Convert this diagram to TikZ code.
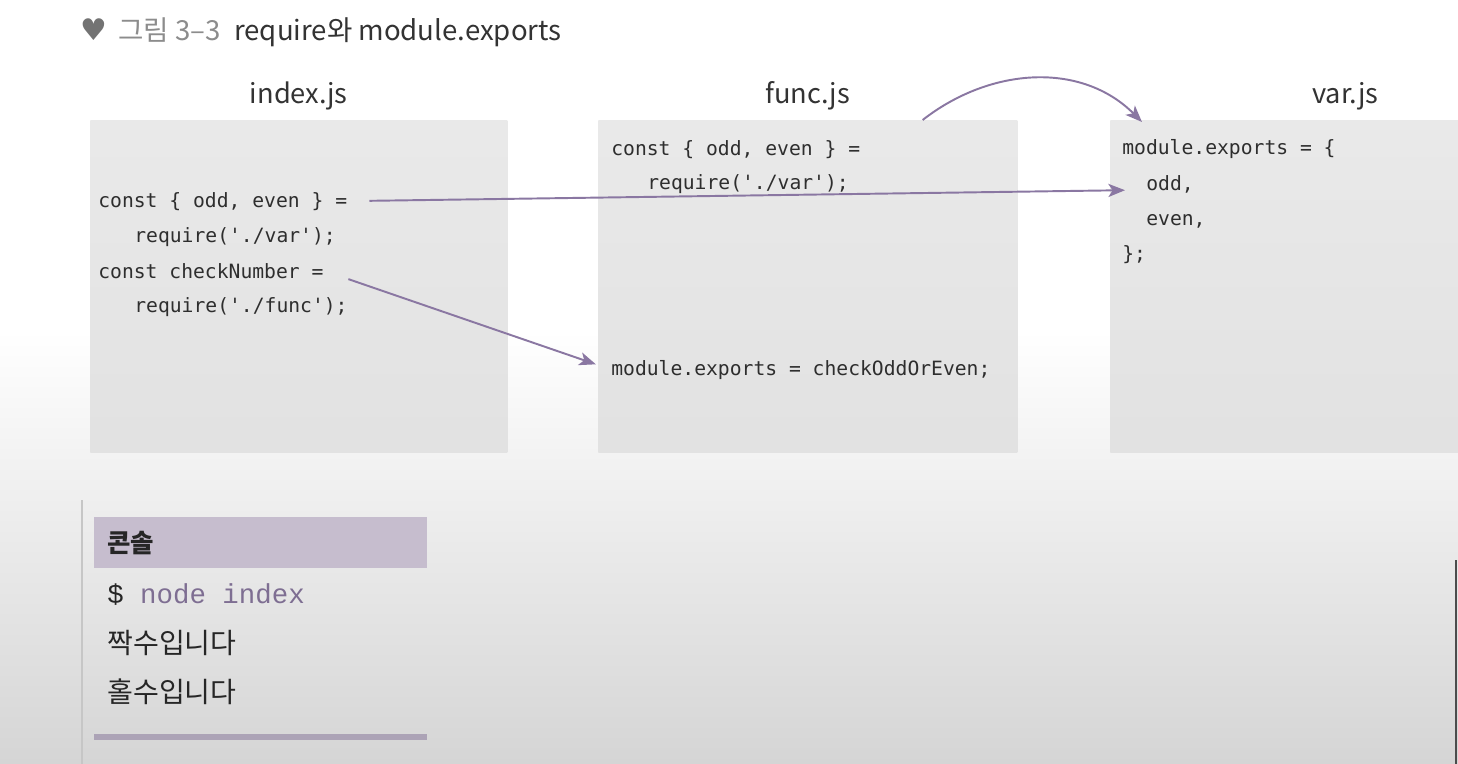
\documentclass[tikz,border=0pt]{standalone}
\usepackage{fontspec}
\setmonofont{DejaVu Sans Mono}
\newfontfamily\krfont{Noto Sans CJK KR}
\newfontfamily\consfont{Liberation Mono}
\newfontfamily\symfont{DejaVu Sans}
\usetikzlibrary{arrows.meta}
\usetikzlibrary{positioning}

\definecolor{arrowc}{HTML}{8A77A2}
\definecolor{lilac}{HTML}{C6BDCE}
\definecolor{barc}{HTML}{ACA3B6}
\definecolor{cmdc}{HTML}{7E6E92}
\definecolor{codec}{HTML}{2E2E2E}

\begin{document}
\begin{tikzpicture}[x=0.02cm,y=-0.02cm,
    filebox/.style={anchor=north west,minimum height=6.64cm,inner sep=0,draw=none,top color=gray!17,bottom color=gray!23},
    fname/.style={inner sep=0,font=\krfont\fontsize{15.5}{18}\selectfont,text=black!80},
    code/.style={anchor=base west,inner sep=0,font=\ttfamily\fontsize{11.2}{13}\selectfont,text=codec},
    link/.style={draw=arrowc,line width=1.1pt,-{Stealth[length=9.5pt,width=7.5pt,inset=2.5pt]}},
    cons/.style={anchor=west,inner sep=0,font=\krfont\fontsize{16}{19}\selectfont,text=black!85}]
    \useasboundingbox (0,0) rectangle (1458,764);
    \clip (0,0) rectangle (1458,764);
    \fill[white] (0,0) rectangle (1458,330);
    \shade[top color=white,bottom color=gray!33] (0,330) rectangle (1458,764);

    \node[anchor=west,inner sep=0,font=\krfont\fontsize{15.7}{18}\selectfont,text=black!80] (ttl) at (80,32)
      {{\symfont\color{gray!110}\fontsize{17}{18}\selectfont ♥}\hspace{0.4em}{\color{gray!90}그림 3–3}\hspace{0.5em}require와 module.exports};

    % the three files
    \node[filebox,minimum width=8.34cm] (idx) at (90,120) {};
    \node[filebox,minimum width=8.38cm] (fnc) at (598,120) {};
    \node[filebox,minimum width=9.4cm] (var) at (1110,120) {};
    \node[fname,above=0.2cm of idx] (idxname) {index.js};
    \node[fname,above=0.2cm of fnc] (fncname) {func.js};
    \node[fname,above=0.2cm of var] (varname) {var.js};

    \node[code] (i1) at (98,207) {const \{ odd, even \} =};
    \node[code] (i2) at (134,242) {require('./var');};
    \node[code] (i3) at (98,278) {const checkNumber =};
    \node[code] (i4) at (134,312) {require('./func');};

    \node[code] (f1) at (611,155) {const \{ odd, even \} =};
    \node[code] (f2) at (647,189) {require('./var');};
    \node[code] (f3) at (611,375) {module.exports = checkOddOrEven;};

    \foreach \x/\y/\t [count=\i] in {1122/154/{module.exports = \{},1146/190/{odd,},1146/225/{even,},1122/260/{\};}}
      \node[code] (v\i) at (\x,\y) {\t};

    \draw[link,shorten <=0.44cm,shorten >=0.42cm] (i1.east) -- ([yshift=-0.12cm]v2.west);
    \draw[link,shorten <=0.52cm,shorten >=0.32cm] (i3.east) -- (f3.west);
    \draw[link] ([xshift=-1.9cm]fnc.north east) to[out=38,in=135] ([xshift=0.64cm,yshift=-0.04cm]var.north west);

    % console
    \draw[gray!45,line width=1pt] (82,500) -- (82,764);
    \fill[lilac] (94,517) rectangle (427,568);
    \node[anchor=west,inner sep=0,font=\krfont\bfseries\fontsize{14.5}{17}\selectfont,text=black!85] (hdr) at (107,543) {콘솔};
    \node[anchor=base west,inner sep=0,font=\consfont\fontsize{15.6}{18}\selectfont,text=black!85] (cmd) at (107,603) {\$ \textcolor{cmdc}{node index}};
    \foreach \t/\y [count=\i] in {짝수입니다/643,홀수입니다/692}
      \node[cons] (out\i) at (107,\y) {\t};
    \fill[barc] (94,734) rectangle (427,740);

    \draw[gray!60!black,line width=1.2pt] (1456,560) -- (1456,764);
\end{tikzpicture}
\end{document}
